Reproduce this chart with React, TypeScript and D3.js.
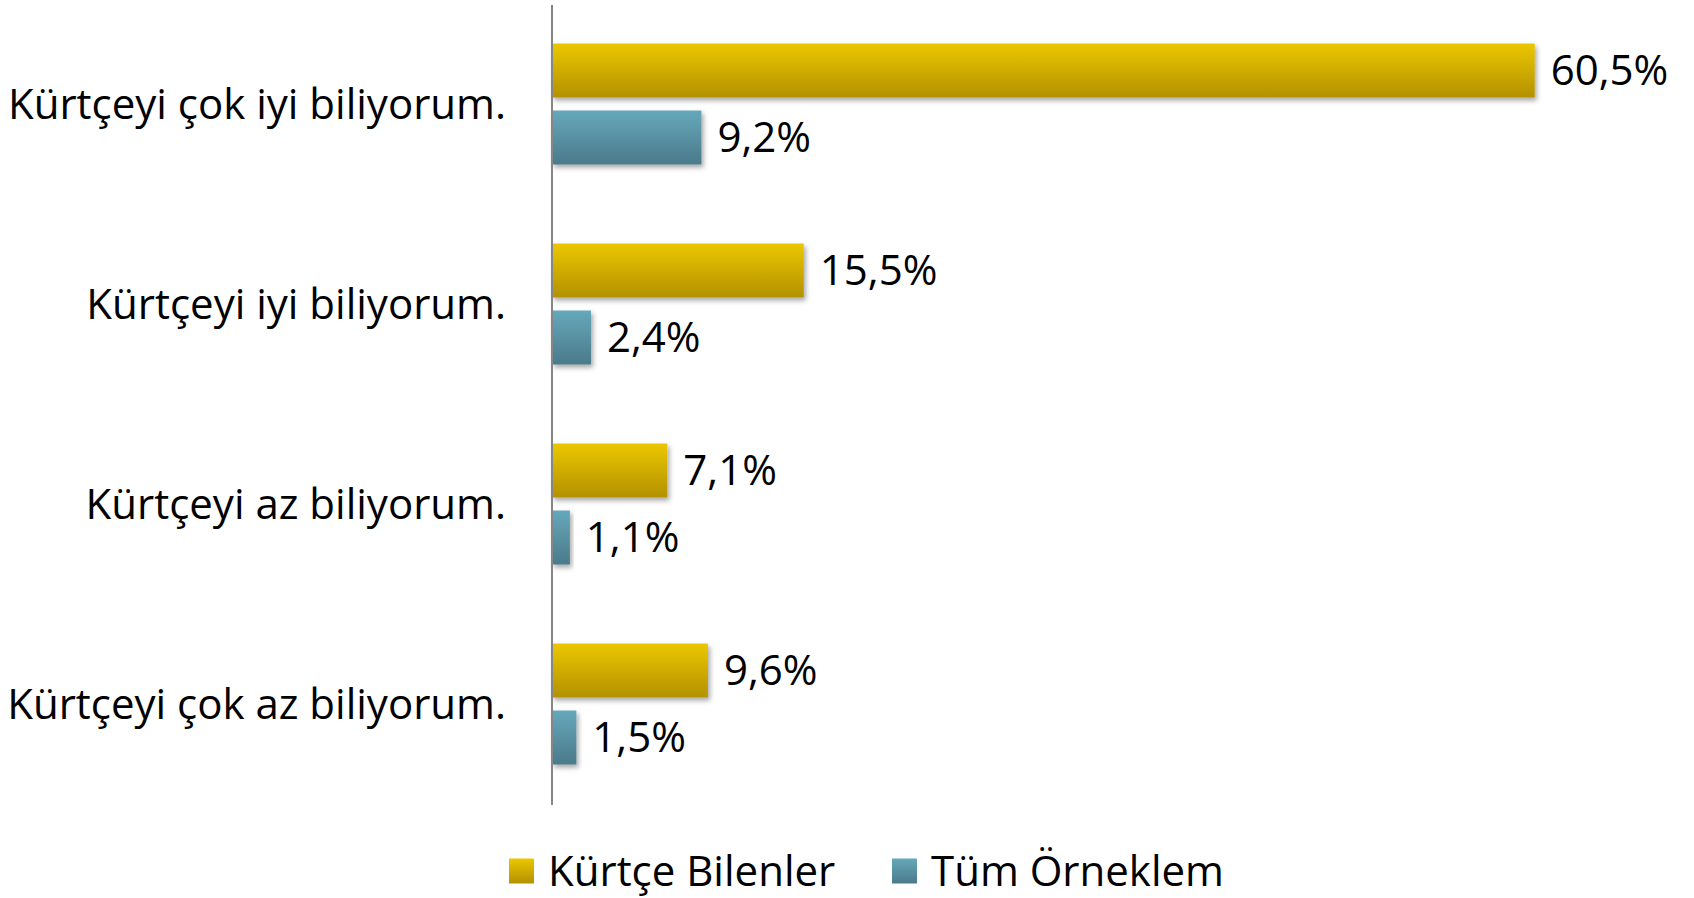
import React, { useEffect, useRef } from 'react';
import * as d3 from 'd3';

const categories = [
  'Kürtçeyi çok iyi biliyorum.',
  'Kürtçeyi iyi biliyorum.',
  'Kürtçeyi az biliyorum.',
  'Kürtçeyi çok az biliyorum.',
];
const seriesNames = ['Kürtçe Bilenler', 'Tüm Örneklem'];
const kurtceBilenler = [60.5, 15.5, 7.1, 9.6];
const tumOrneklem = [9.2, 2.4, 1.1, 1.5];

const gradients = [
  { id: 'gYellow', top: '#ebc700', bottom: '#b39100' },
  { id: 'gBlue', top: '#66a8bb', bottom: '#4a7a8a' },
];

const fmt = (v: number) => v.toFixed(1).replace('.', ',') + '%';

const App: React.FC = () => {
  const ref = useRef<SVGSVGElement>(null);

  useEffect(() => {
    const W = 1694;
    const H = 898;
    const font = '"Open Sans", Lato, sans-serif';
    const fontSize = 42;

    const svg = d3.select(ref.current).attr('width', W).attr('height', H);
    svg.selectAll('*').remove();

    const defs = svg.append('defs');
    gradients.forEach((g) => {
      const lg = defs
        .append('linearGradient')
        .attr('id', g.id)
        .attr('x1', 0)
        .attr('y1', 0)
        .attr('x2', 0)
        .attr('y2', 1);
      lg.append('stop').attr('offset', '0%').attr('stop-color', g.top);
      lg.append('stop').attr('offset', '100%').attr('stop-color', g.bottom);
    });
    const filter = defs
      .append('filter')
      .attr('id', 'shadow')
      .attr('x', '-10%')
      .attr('y', '-20%')
      .attr('width', '130%')
      .attr('height', '160%');
    filter
      .append('feDropShadow')
      .attr('dx', 2)
      .attr('dy', 3)
      .attr('stdDeviation', 2.5)
      .attr('flood-color', '#000')
      .attr('flood-opacity', 0.35);

    const x = d3.scaleLinear().domain([0, 70]).range([552, 1689]);
    const y0 = d3.scaleBand().domain(categories).range([4, 804]);
    const y1 = d3
      .scaleBand()
      .domain(seriesNames)
      .range([-60.5, 60.5])
      .paddingInner(13 / 67);

    const rows = categories.map((c, i) => ({
      category: c,
      values: [kurtceBilenler[i], tumOrneklem[i]],
    }));

    const groups = svg
      .selectAll('.grp')
      .data(rows)
      .enter()
      .append('g')
      .attr('transform', (d) => `translate(0,${y0(d.category)! + y0.bandwidth() / 2})`);

    groups
      .selectAll('rect')
      .data((d) => d.values.map((v, j) => ({ v, s: seriesNames[j], j })))
      .enter()
      .append('rect')
      .attr('x', x(0))
      .attr('y', (d) => y1(d.s)!)
      .attr('width', (d) => x(d.v) - x(0))
      .attr('height', y1.bandwidth())
      .attr('fill', (d) => `url(#${gradients[d.j].id})`)
      .attr('filter', 'url(#shadow)');

    groups
      .selectAll('text.val')
      .data((d) => d.values.map((v, j) => ({ v, s: seriesNames[j] })))
      .enter()
      .append('text')
      .attr('class', 'val')
      .attr('x', (d) => x(d.v) + 16)
      .attr('y', (d) => y1(d.s)! + y1.bandwidth() / 2)
      .attr('dy', '0.35em')
      .attr('font-family', font)
      .attr('font-size', fontSize)
      .attr('fill', '#000')
      .text((d) => fmt(d.v));

    // category labels
    svg
      .selectAll('text.cat')
      .data(categories)
      .enter()
      .append('text')
      .attr('class', 'cat')
      .attr('x', 506)
      .attr('y', (d) => y0(d)! + y0.bandwidth() / 2)
      .attr('dy', '0.35em')
      .attr('text-anchor', 'end')
      .attr('font-family', font)
      .attr('font-size', fontSize)
      .attr('fill', '#000')
      .text((d) => d);

    // axis line
    svg
      .append('line')
      .attr('x1', x(0))
      .attr('x2', x(0))
      .attr('y1', 5)
      .attr('y2', 805)
      .attr('stroke', '#868686')
      .attr('stroke-width', 2);

    // legend
    const legendX = [509, 892];
    const legend = svg
      .selectAll('.leg')
      .data(seriesNames)
      .enter()
      .append('g')
      .attr('transform', (d, i) => `translate(${legendX[i]},871)`);
    legend
      .append('rect')
      .attr('x', 0)
      .attr('y', -12.5)
      .attr('width', 25)
      .attr('height', 25)
      .attr('fill', (d, i) => `url(#${gradients[i].id})`);
    legend
      .append('text')
      .attr('x', 39)
      .attr('y', 0)
      .attr('dy', '0.35em')
      .attr('font-family', font)
      .attr('font-size', fontSize)
      .attr('fill', '#000')
      .text((d) => d);
  }, []);

  return <svg ref={ref} style={{ position: 'absolute', left: 0, top: 0 }}></svg>;
};

export default App;
